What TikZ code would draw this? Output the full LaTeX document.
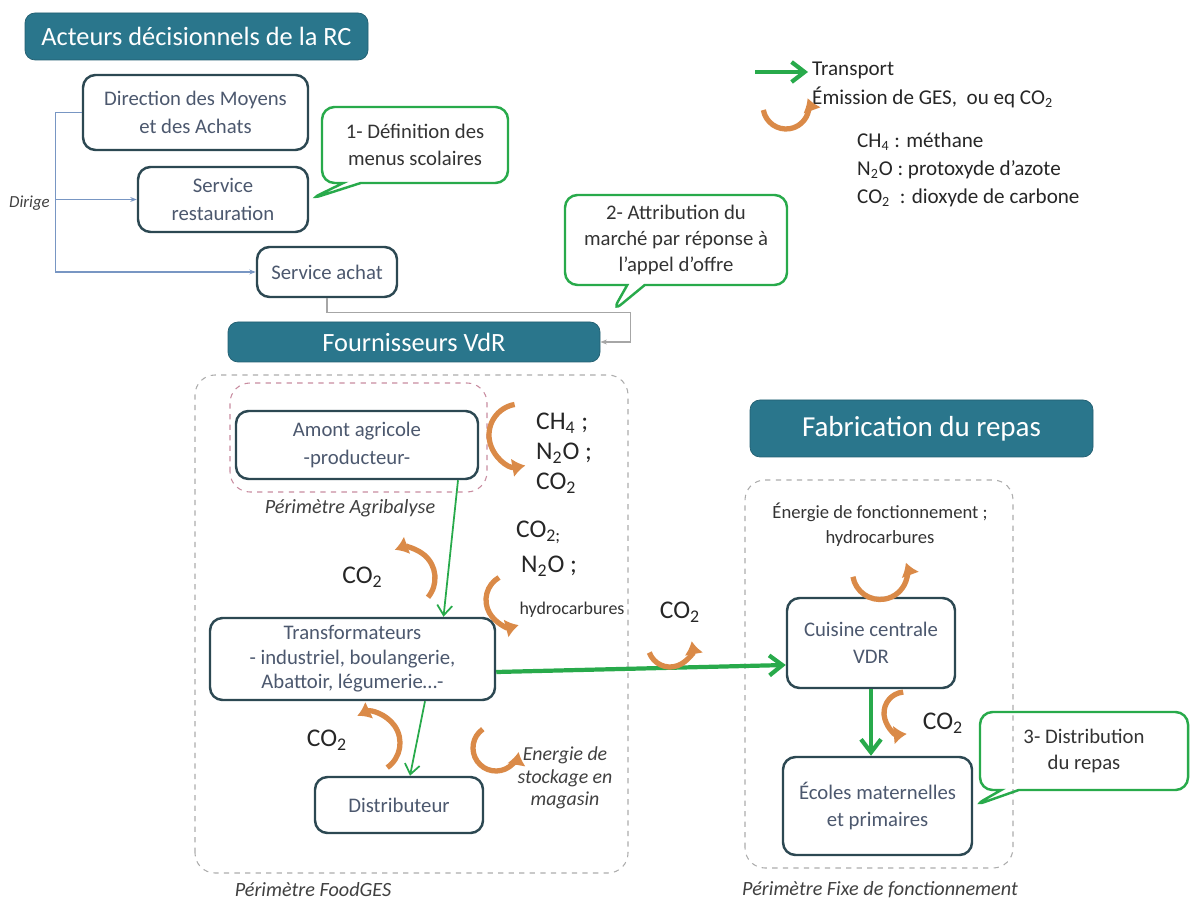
\documentclass[tikz,border=0pt]{standalone}
\usepackage{fontspec}
\setmainfont{Carlito}
\usetikzlibrary{positioning, arrows.meta, shapes.callouts}
\definecolor{titreteal}{RGB}{42,118,140}
\definecolor{cadre}{RGB}{44,72,82}
\definecolor{texteboite}{RGB}{76,88,110}
\definecolor{vert}{RGB}{40,170,75}
\definecolor{bleuligne}{RGB}{120,150,195}
\definecolor{orangeges}{RGB}{218,138,72}
\definecolor{roseperim}{RGB}{200,140,160}

\begin{document}
\begin{tikzpicture}[
titre/.style={rectangle, rounded corners=2mm, fill=titreteal, draw=titreteal!80!black, text=white, font=\fontsize{15}{18}\selectfont},
acteur/.style={rectangle, rounded corners=2.5mm, draw=cadre, line width=1.4pt, fill=white, text=texteboite, align=center, font=\fontsize{11.8}{15.5}\selectfont},
bulle/.style={rectangle callout, rounded corners=2.5mm, draw=vert, line width=1.4pt, align=center, text=black!80, font=\fontsize{11.8}{15}\selectfont, callout pointer width=0.35cm},
perim/.style={draw=gray!65, dashed, line width=0.6pt, rounded corners=4mm},
legende/.style={font=\itshape\fontsize{11.5}{14}\selectfont, text=black!75},
gaz/.style={font=\fontsize{14.5}{17}\selectfont, text=black!85, align=left},
note/.style={font=\fontsize{12}{14.5}\selectfont, text=black!85},
dirige/.style={draw=bleuligne, line width=0.6pt},
flux/.style={-{Straight Barb[length=2mm, width=3mm]}, line width=1pt, draw=vert},
fluxfort/.style={-{Straight Barb[length=2.6mm, width=4mm]}, line width=2.4pt, draw=vert},
ges/.style={-{Latex[length=2.6mm, width=3.8mm]}, line width=3pt, draw=orangeges}
]
\useasboundingbox (0,0) rectangle (24,18.04);

\draw[perim] (3.9,0.58) rectangle (12.56,10.54);
\draw[perim, draw=roseperim] (4.6,8.2) rectangle (9.74,10.38);
\draw[perim] (14.9,0.68) rectangle (20.26,8.44);
\node[legende] (PA) at (7,7.88) {Périmètre Agribalyse};
\node[legende] (PF) at (6.26,0.24) {Périmètre FoodGES};
\node[legende] (PX) at (17.6,0.24) {Périmètre Fixe de fonctionnement};

\node[titre, minimum width=6.86cm, minimum height=0.94cm] (RC) at (3.93,17.31) {Acteurs décisionnels de la RC};
\node[acteur, minimum width=4.5cm, minimum height=1.5cm] (DMA) at (3.91,15.79) {Direction des Moyens\\et des Achats};
\node[acteur, minimum width=3.4cm, minimum height=1.3cm] (SR) at (4.46,14.05) {Service\\restauration};
\node[acteur, minimum width=2.8cm, minimum height=1cm] (SA) at (6.54,12.6) {Service achat};
\node[titre, minimum width=7.44cm, minimum height=0.8cm] (FV) at (8.28,11.2) {Fournisseurs VdR};
\node[titre, minimum width=6.86cm, minimum height=1.14cm, font=\fontsize{16.5}{19}\selectfont] (FR) at (18.43,9.47) {Fabrication du repas};

\node[acteur, minimum width=4.84cm, minimum height=1.36cm] (AA) at (7.14,9.14) {Amont agricole\\-producteur-};
\node[acteur, minimum width=5.7cm, minimum height=1.64cm, font=\fontsize{11.8}{14}\selectfont] (TR) at (7.05,4.86) {Transformateurs\\- industriel, boulangerie,\\Abattoir, légumerie…-};
\node[acteur, minimum width=3.36cm, minimum height=1.12cm] (DI) at (7.98,1.94) {Distributeur};
\node[acteur, minimum width=3.36cm, minimum height=1.8cm] (CC) at (17.42,5.18) {Cuisine centrale\\VDR};
\node[acteur, minimum width=3.78cm, minimum height=1.96cm] (EC) at (17.55,1.92) {Écoles maternelles\\et primaires};

\node[bulle, minimum width=3.72cm, minimum height=1.52cm, callout absolute pointer={(SR.east)}] (C1) at (8.3,15.14) {1- Définition des\\menus scolaires};
\node[bulle, minimum width=4.44cm, minimum height=1.8cm, callout absolute pointer={(12.24,11.8)}] (C2) at (13.52,13.24) {2- Attribution du\\marché par réponse à\\l’appel d’offre};
\node[bulle, minimum width=4.16cm, minimum height=1.56cm, callout absolute pointer={(EC.east)}] (C3) at (21.68,3.02) {3- Distribution\\du repas};

\draw[dirige] (DMA.west) -- ++(-0.52,0) coordinate (DG);
\draw[dirige, -{Stealth[length=1.3mm]}] (DG) |- (SR.west);
\draw[dirige, -{Stealth[length=1.3mm]}] (DG) |- (SA.west);
\node[legende, anchor=east, font=\itshape\fontsize{9.6}{11}\selectfont] (DIR) at (1.12,13.98) {Dirige};
\draw[dirige, draw=gray!70, -{Stealth[length=1.3mm]}] (SA.south) -- ++(0,-0.28) -| ([xshift=0.6cm]FV.east) -- (FV.east);

\draw[flux] ([xshift=2.02cm]AA.south) -- ([xshift=1.82cm]TR.north);
\draw[flux] ([xshift=1.45cm]TR.south) -- ([xshift=0.22cm]DI.north);
\draw[fluxfort] ([yshift=-0.26cm]TR.east) -- ([yshift=-0.44cm]CC.west);
\draw[fluxfort] (CC.south) -- (CC.south |- EC.north);

\node[gaz, anchor=west] (G1) at (10.6,8.98) {CH\textsubscript{4} ;\\N\textsubscript{2}O ;\\CO\textsubscript{2}};
\node[gaz] (G2) at (7.25,6.5) {CO\textsubscript{2}};
\node[gaz, anchor=west] (G3) at (10.2,7.4) {CO\textsubscript{2;}};
\node[gaz, anchor=west] (G4) at (10.3,6.72) {N\textsubscript{2}O ;};
\node[font=\fontsize{10.2}{12}\selectfont, text=black!80] (G5) at (11.44,5.84) {hydrocarbures};
\node[gaz] (G6) at (13.6,5.8) {CO\textsubscript{2}};
\node[gaz] (G7) at (6.54,3.24) {CO\textsubscript{2}};
\node[legende, align=center, font=\itshape\fontsize{11.3}{12.8}\selectfont] (G8) at (11.3,2.48) {Energie de\\stockage en\\magasin};
\node[gaz] (G9) at (18.86,3.58) {CO\textsubscript{2}};
\node[align=center, font=\fontsize{10.6}{14}\selectfont, text=black!80] (G10) at (17.6,7.54) {Énergie de fonctionnement ;\\hydrocarbures};

\draw[ges] ([shift={(100:0.62)}]10.4,9.34) arc[start angle=100, end angle=280, radius=0.62];
\draw[ges] ([shift={(-40:0.6)}]8.1,6.48) arc[start angle=-40, end angle=110, radius=0.6];
\draw[ges] ([shift={(120:0.52)}]10.24,6.04) arc[start angle=120, end angle=285, radius=0.52];
\draw[ges] ([shift={(200:0.44)}]13.4,5.14) arc[start angle=200, end angle=370, radius=0.44];
\draw[ges] ([shift={(-55:0.6)}]7.4,3.18) arc[start angle=-55, end angle=115, radius=0.6];
\draw[ges] ([shift={(125:0.46)}]9.92,3.08) arc[start angle=125, end angle=350, radius=0.46];
\draw[ges] ([shift={(190:0.55)}]17.6,6.6) arc[start angle=190, end angle=380, radius=0.55];
\draw[ges] ([shift={(95:0.42)}]18.1,3.78) arc[start angle=95, end angle=275, radius=0.42];

\coordinate (LT) at (15.1,16.6);
\draw[fluxfort] (LT) -- ++(1.06,0) coordinate (LTE);
\node[note, anchor=west] (L1) at (16.12,16.64) {Transport};
\node[note, anchor=west] (L2) at (16.12,16.1) {Émission de GES,\ \ ou eq CO\textsubscript{2}};
\draw[ges] ([shift={(190:0.46)}]15.72,15.92) arc[start angle=190, end angle=380, radius=0.46];
\node[note, anchor=west] (L3) at (17.02,15.2) {CH\textsubscript{4} : méthane};
\node[note, anchor=west] (L4) at (17.02,14.64) {N\textsubscript{2}O : protoxyde d’azote};
\node[note, anchor=west] (L5) at (17.02,14.08) {CO\textsubscript{2}\ \ : dioxyde de carbone};
\end{tikzpicture}
\end{document}
